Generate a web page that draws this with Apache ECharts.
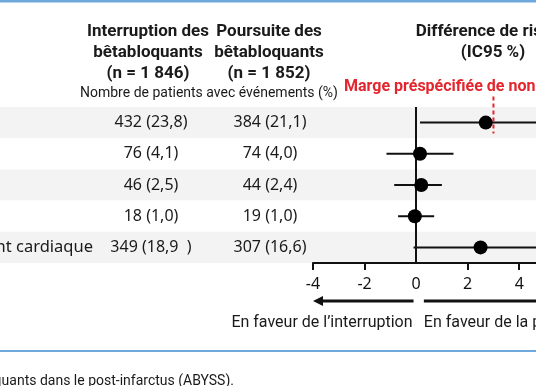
<!DOCTYPE html>
<html><head><meta charset="utf-8">
<script src="https://cdn.jsdelivr.net/npm/echarts@6/dist/echarts.min.js"></script>
<style>html,body{margin:0;padding:0;background:#fff}#c{width:536px;height:386px}</style>
</head><body><div id="c"></div>
<script>
const rowLabels = ['', '', '', '', 'événement cardiaque'];
const interruption = ['432 (23,8)', '76 (4,1)', '46 (2,5)', '18 (1,0)', '349 (18,9  )'];
const poursuite = ['384 (21,1)', '74 (4,0)', '44 (2,4)', '19 (1,0)', '307 (16,6)'];
const diff = [2.7, 0.15, 0.2, -0.05, 2.5];
const ciLow = [0.15, -1.15, -0.85, -0.7, -0.1];
const ciHigh = [5.5, 1.45, 1.0, 0.7, 5.3];
const tickLabels = [-4, -2, 0, 2, 4];
const tickMarks = [-4, -2, 2, 4];
const nonInfMargin = 3;

const HF = 'Roboto, "Noto Sans", sans-serif';
const TF = '"Noto Sans", "Open Sans", sans-serif';
const idx = rowLabels.map((_, i) => i);

const chart = echarts.init(document.getElementById('c'), null, {renderer: 'canvas'});

function txt(text, x, y, align, opts) {
  return {
    type: 'text', x: x, y: y, z: 10,
    style: Object.assign({text: text, align: align, verticalAlign: 'middle', fill: '#1a1a1a',
      font: 'bold 17px ' + HF}, opts || {})
  };
}

const option = {
  animation: false,
  grid: [
    {left: 0, right: 0, top: 107, height: 156, containLabel: false, outerBoundsMode: 'none'},
    {left: 313, right: 0, top: 107, height: 156, containLabel: false, outerBoundsMode: 'none'}
  ],
  xAxis: [
    {gridIndex: 0, type: 'value', min: 0, max: 1, show: false},
    {gridIndex: 1, type: 'value', min: -4, max: 4.65, splitLine: {show: false},
      axisLine: {show: true, onZero: false, lineStyle: {color: '#111', width: 2}},
      axisTick: {show: true, length: 7, lineStyle: {color: '#111', width: 2}, customValues: tickMarks},
      axisLabel: {customValues: tickLabels, fontSize: 16, color: '#111', margin: 13, fontFamily: TF}}
  ],
  yAxis: [
    {gridIndex: 0, type: 'category', inverse: true, data: idx, axisLine: {show: false}, axisTick: {show: false},
      axisLabel: {show: false}, splitLine: {show: false},
      splitArea: {show: true, areaStyle: {color: ['#f3f3f3', '#ffffff']}}},
    {gridIndex: 1, type: 'category', inverse: true, data: rowLabels, position: 'left', offset: 212,
      axisLine: {show: false}, axisTick: {show: false},
      axisLabel: {margin: 8, fontSize: 16.5, color: '#1a1a1a', fontFamily: TF}},
    {gridIndex: 1, type: 'category', inverse: true, data: interruption, position: 'left', offset: 162,
      axisLine: {show: false}, axisTick: {show: false},
      axisLabel: {margin: 0, align: 'center', fontSize: 16, color: '#1a1a1a', fontFamily: TF}},
    {gridIndex: 1, type: 'category', inverse: true, data: poursuite, position: 'left', offset: 43,
      axisLine: {show: false}, axisTick: {show: false},
      axisLabel: {margin: 0, align: 'center', fontSize: 16, color: '#1a1a1a', fontFamily: TF}}
  ],
  series: [
    {
      type: 'custom', xAxisIndex: 1, yAxisIndex: 1, z: 3,
      data: idx.map(i => [ciLow[i], ciHigh[i], i]),
      renderItem: function (params, api) {
        const a = api.coord([api.value(0), api.value(2)]);
        const b = api.coord([api.value(1), api.value(2)]);
        return {type: 'line', shape: {x1: a[0], y1: a[1], x2: b[0], y2: b[1]},
          style: {stroke: '#111', lineWidth: 2}};
      }
    },
    {
      type: 'scatter', xAxisIndex: 1, yAxisIndex: 1, z: 5, symbolSize: 14,
      itemStyle: {color: '#000', opacity: 1},
      data: idx.map(i => [diff[i], i]),
      markLine: {silent: true, symbol: 'none', label: {show: false},
        lineStyle: {color: '#111', width: 2, type: 'solid'},
        data: [{xAxis: 0}]}
    },
    {
      type: 'custom', xAxisIndex: 1, yAxisIndex: 1, z: 4, clip: false,
      data: [[nonInfMargin, 0]],
      renderItem: function (params, api) {
        const p = api.coord([api.value(0), api.value(1)]);
        return {type: 'line', shape: {x1: p[0], y1: p[1] - 26, x2: p[0], y2: p[1] + 11},
          style: {stroke: '#e3262d', lineWidth: 2, lineDash: [4, 3]}};
      }
    }
  ]
};
chart.setOption(option);

const x0 = chart.convertToPixel({gridIndex: 1}, [-4, 0])[0];
const xl = chart.convertToPixel({gridIndex: 1}, [-0.1, 0])[0];
const xr = chart.convertToPixel({gridIndex: 1}, [0.3, 0])[0];
const ay = 301;

chart.setOption({
  graphic: [
    {type: 'rect', shape: {x: 0, y: 0, width: 536, height: 2.5}, style: {fill: '#6fa8dc'}},
    {type: 'rect', shape: {x: 0, y: 350, width: 536, height: 2}, style: {fill: '#6fa8dc'}},
    txt('Interruption des', 148, 32, 'center'),
    txt('bêtabloquants', 148, 53, 'center'),
    txt('(n = 1 846)', 148, 74, 'center'),
    txt('Poursuite des', 269, 32, 'center'),
    txt('bêtabloquants', 269, 53, 'center'),
    txt('(n = 1 852)', 269, 74, 'center'),
    txt('Nombre de patients avec événements (%)', 209, 93, 'center', {font: '14px ' + HF}),
    txt('Différence de risque', 493, 32, 'center'),
    txt('(IC95 %)', 493, 53, 'center'),
    txt('Marge préspécifiée de non-infériorité', 344, 87, 'left', {font: 'bold 16px ' + HF, fill: '#e3262d'}),
    {type: 'line', shape: {x1: xl, y1: ay, x2: x0 + 8, y2: ay}, style: {stroke: '#111', lineWidth: 3}},
    {type: 'polygon', shape: {points: [[x0, ay], [x0 + 10, ay - 5], [x0 + 10, ay + 5]]}, style: {fill: '#111'}},
    {type: 'line', shape: {x1: xr, y1: ay, x2: 540, y2: ay}, style: {stroke: '#111', lineWidth: 3}},
    txt('En faveur de l’interruption', xl - 1, 323, 'right', {font: '16px ' + HF}),
    txt('En faveur de la poursuite', xr, 323, 'left', {font: '16px ' + HF}),
    txt('bêtabloquants dans le post-infarctus (ABYSS).', 234, 381, 'right', {font: '14px ' + HF})
  ]
});
</script></body></html>
